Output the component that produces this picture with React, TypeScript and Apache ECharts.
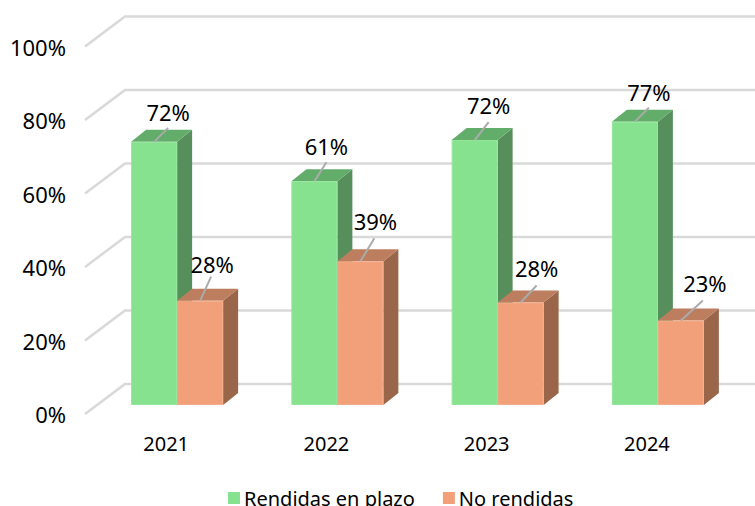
import React, { useEffect, useRef } from "react";
import * as echarts from "echarts";

const categories = ["2021", "2022", "2023", "2024"];
const rendidas = [71.6, 60.9, 72.1, 77.1];
const noRendidas = [28.4, 39.1, 27.9, 23.0];
const yTicks = [0, 20, 40, 60, 80, 100];

const FONT = "'Noto Sans', sans-serif";
const GREEN = { front: "#86E28F", side: "#578F5C", top: "#63AD6B", edge: "#93E59B" };
const ORANGE = { front: "#F2A07A", side: "#99664A", top: "#BC7E5E", edge: "#F4AC8A" };
const GRID = "#D9D9D9";
const LEADER = "#ABABAB";
const BAR_SHIFT = { x: 12, y: -9 };
const DEPTH = { x: 15, y: -12 };
const WALL = { x: 40, y: -30 };
const BAR_RATIO = 46 / 160.3;

// leader end and label centre, relative to the bar's top-front centre
const greenLabelShift = [
  { lx: 14, ly: -14, tx: 14, ty: -30 },
  { lx: 12, ly: -19, tx: 12, ty: -35 },
  { lx: 14, ly: -18, tx: 14, ty: -35 },
  { lx: 14, ly: -14, tx: 14, ty: -30 },
];
const orangeLabelShift = [
  { lx: 11, ly: -24, tx: 12, ty: -37 },
  { lx: 14, ly: -23, tx: 15, ty: -40 },
  { lx: 16, ly: -17, tx: 16, ty: -34 },
  { lx: 22, ly: -20, tx: 24, ty: -37 },
];

function barRender(side: number, c: typeof GREEN, shifts: typeof greenLabelShift) {
  return (params: any, api: any) => {
    const cat = api.value(0);
    const val = api.value(1);
    const w = api.size([1, 0])[0] * BAR_RATIO;
    const top = api.coord([cat, val]);
    const base = api.coord([cat, 0]);
    const x0 = top[0] + BAR_SHIFT.x + (side < 0 ? -w : 0);
    const x1 = x0 + w;
    const y0 = top[1] + BAR_SHIFT.y;
    const y1 = base[1] + BAR_SHIFT.y;
    const s = shifts[params.dataIndex];
    const cx = (x0 + x1) / 2;
    return {
      type: "group",
      children: [
        {
          type: "polygon",
          shape: { points: [[x1, y0], [x1 + DEPTH.x, y0 + DEPTH.y], [x1 + DEPTH.x, y1 + DEPTH.y], [x1, y1]] },
          style: { fill: c.side },
        },
        {
          type: "polygon",
          shape: { points: [[x0, y0], [x0 + DEPTH.x, y0 + DEPTH.y], [x1 + DEPTH.x, y0 + DEPTH.y], [x1, y0]] },
          style: { fill: c.top },
        },
        {
          type: "rect",
          shape: { x: x0 + 0.5, y: y0 + 0.5, width: w - 1, height: y1 - y0 - 1 },
          style: { fill: c.front, stroke: c.edge, lineWidth: 1 },
        },
        {
          type: "line",
          shape: { x1: cx, y1: y0, x2: cx + s.lx, y2: y0 + s.ly },
          style: { stroke: LEADER, lineWidth: 2 },
        },
        {
          type: "text",
          style: {
            x: cx + s.tx,
            y: y0 + s.ty,
            text: Math.round(val) + "%",
            fill: "#000",
            font: `22px ${FONT}`,
            align: "center",
            verticalAlign: "middle",
          },
        },
      ],
    };
  };
}

function gridRender(params: any, api: any) {
  const y = api.coord([0, api.value(0)])[1];
  const cs = params.coordSys;
  return {
    type: "polyline",
    shape: {
      points: [
        [cs.x, y],
        [cs.x + WALL.x, y + WALL.y],
        [cs.x + cs.width + WALL.x, y + WALL.y],
      ],
    },
    style: { stroke: GRID, lineWidth: 2.5, fill: "none" },
  };
}

export default function App() {
  const ref = useRef<HTMLDivElement>(null);
  useEffect(() => {
    const chart = echarts.init(ref.current!, null, { renderer: "svg" });
    chart.setOption({
      animation: false,
      textStyle: { fontFamily: FONT },
      grid: { left: 85, right: 29, top: 46.5, bottom: 92 },
      xAxis: {
        type: "category",
        data: categories,
        axisLine: { show: false },
        axisTick: { show: false },
        axisLabel: { color: "#000", fontSize: 20, fontFamily: FONT, margin: 19, padding: [0, 0, 0, 2] },
      },
      yAxis: {
        type: "value",
        min: 0,
        max: 100,
        interval: 20,
        axisLine: { show: false },
        axisTick: { show: false },
        splitLine: { show: false },
        axisLabel: { color: "#000", fontSize: 22, fontFamily: FONT, margin: 19, formatter: "{value}%" },
      },
      legend: {
        left: 223,
        top: 483,
        icon: "rect",
        itemWidth: 12,
        itemHeight: 12,
        itemGap: 28,
        textStyle: { color: "#000", fontSize: 20, fontFamily: FONT, padding: [0, 0, 0, -1] },
        data: ["Rendidas en plazo", "No rendidas"],
      },
      series: [
        {
          name: "grid",
          type: "custom",
          coordinateSystem: "cartesian2d",
          renderItem: gridRender,
          data: yTicks.map((v) => [v]),
          encode: { y: 0 },
          silent: true,
          z: 1,
        },
        {
          name: "Rendidas en plazo",
          type: "custom",
          renderItem: barRender(-1, GREEN, greenLabelShift),
          itemStyle: { color: GREEN.front },
          data: rendidas.map((v, i) => [i, v]),
          encode: { x: 0, y: 1 },
          z: 2,
        },
        {
          name: "No rendidas",
          type: "custom",
          renderItem: barRender(1, ORANGE, orangeLabelShift),
          itemStyle: { color: ORANGE.front },
          data: noRendidas.map((v, i) => [i, v]),
          encode: { x: 0, y: 1 },
          z: 3,
        },
      ],
    });
    return () => chart.dispose();
  }, []);
  return <div ref={ref} style={{ position: "absolute", left: 0, top: 0, width: 755, height: 506 }} />;
}
